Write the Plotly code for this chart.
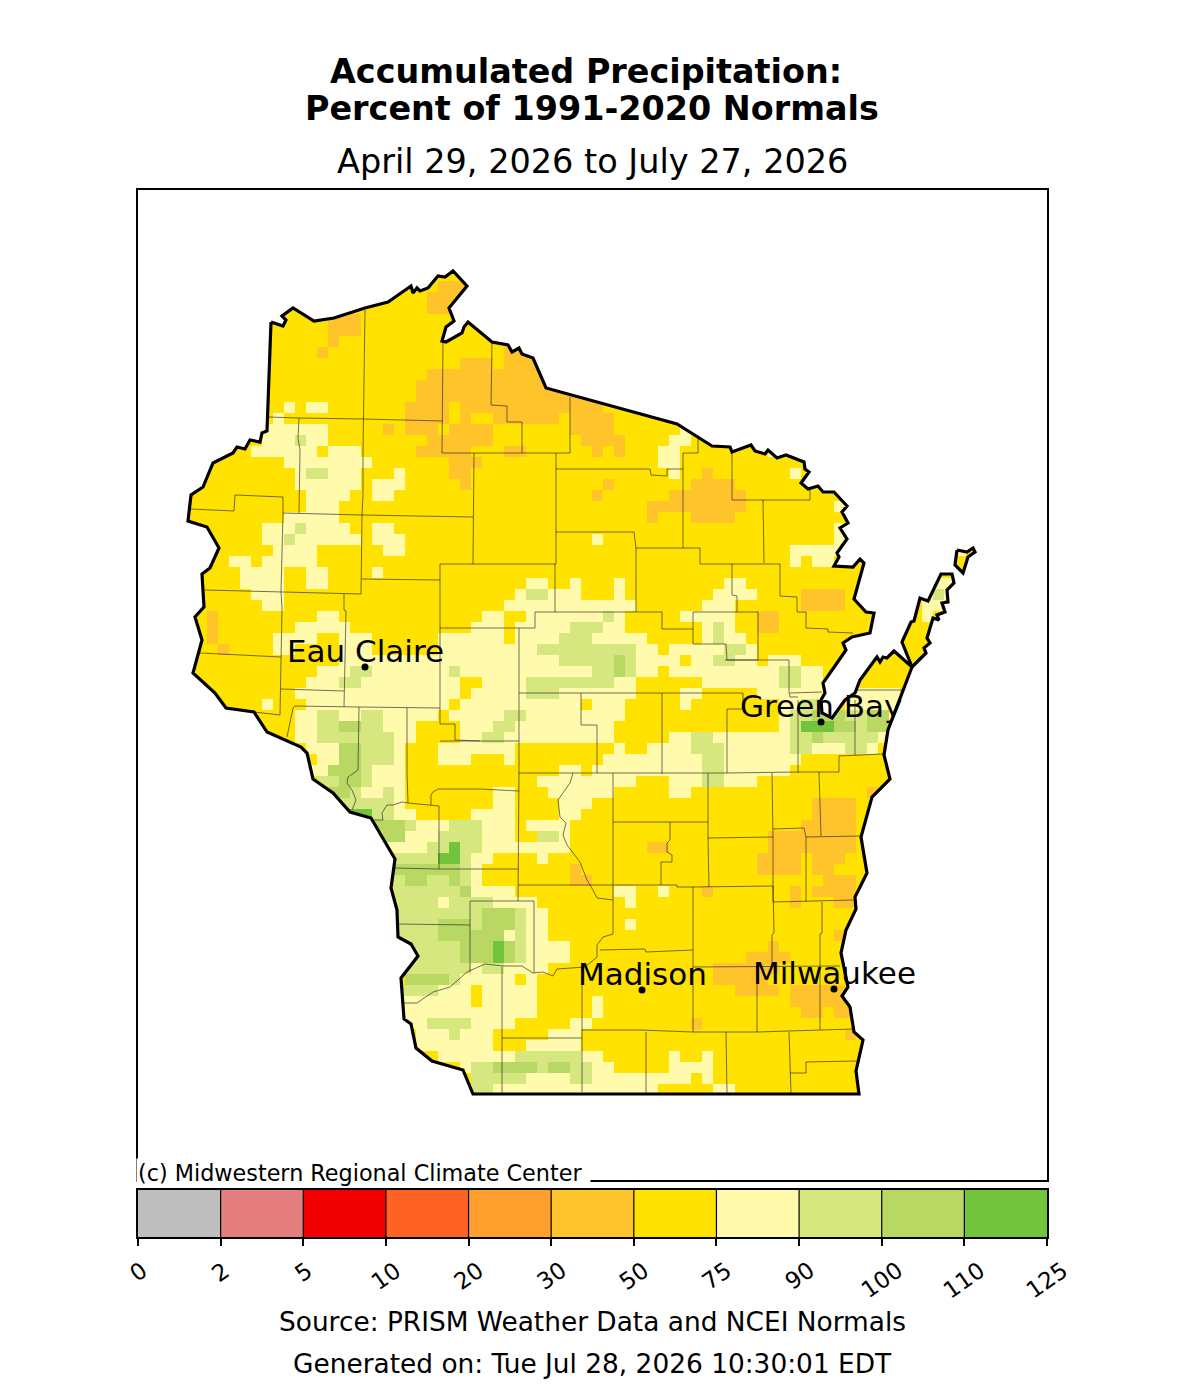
import re
import numpy as np
import plotly.graph_objects as go

# legend classes, percent of normal
tick_labels = ["0", "2", "5", "10", "20", "30", "50", "75", "90", "100", "110", "125"]
bin_colors = ["#BEBEBE", "#E57E7E", "#F00000", "#FF6324", "#FF9F2E", "#FFC42C",
              "#FFE200", "#FFFAAC", "#D7E780", "#B9D863", "#72C43C"]
bin_index = [0, 1, 2, 3, 4, 5, 6, 7, 8, 9, 10]

# gridded precipitation classes, one string per grid row from north to south.
# "13o 16." means class o from column 13, back to class . from column 16
class_codes = {"o": 5, ".": 6, "p": 7, "g": 8, "m": 9, "d": 10}
grid_rows = [
    "",
    "23o 26.",
    "22o 25.",
    "22o 24.",
    "13o 16.",
    "13o 16.",
    "13o 14.",
    "12o 13. 29o 32.",
    "25o 28. 29o 32.",
    "22o 33.",
    "21o 33.",
    "21o 38.",
    "9p 10. 11p 13. 20o 24. 25o 38.",
    "8p 9. 20o 24. 25o 26. 28o 34. 35o 39.",
    "7p 13. 18o 19. 20o 23. 24o 28. 35o 39. 45p 46.",
    "7p 10. 10g 11. 11p 13. 22o 28. 36o 40. 44p 46.",
    "6p 12. 13p 16. 21o 26. 29o 31. 37o 38. 39o 40. 43p 45. 53p 54.",
    "9p 17. 24o 27. 43p 45.",
    "10p 11. 11g 13. 13p 16. 19p 20. 24o 26. 44p 45. 47o 48. 55p 56.",
    "10p 16. 17p 20. 25o 26. 38o 39. 46o 50.",
    "11p 15. 17p 19. 37o 38. 44o 51.",
    "11p 14. 42o 51. 59p 60.",
    "9p 14. 42o 43. 46o 50.",
    "7p 10. 10g 11. 11p 15. 17p 19. 59p 60.",
    "7p 9. 9g 10. 10p 16. 17p 20. 37p 38. 59p 60.",
    "8p 12. 18p 20. 55p 60. 70p 71.",
    "4p 6. 7p 12. 55p 56. 57p 59.",
    "5p 9. 11p 13. 17p 18.",
    "5p 9. 11p 13. 31p 33. 35p 36. 39p 40. 49p 51. 68p 70.",
    "6p 9. 30p 31. 31g 33. 33p 36. 39p 40. 48p 52. 56o 60. 67p 68. 68g 69. 69p 70.",
    "7p 9. 29p 41. 47p 50. 56o 60. 67p 69.",
    "2o 3. 12p 14. 27p 29. 31p 38. 38g 39. 39p 40. 45p 50. 52o 54. 67p 68.",
    "2o 3. 10p 15. 26p 29. 30p 35. 35g 38. 38p 40. 47p 48. 48g 49. 49p 50. 52o 54.",
    "2o 3. 8p 12. 14p 17. 23p 29. 30p 34. 34g 37. 37p 42. 47p 48. 48g 49. 49p 51.",
    "3o 4. 8p 10. 14p 17. 23p 32. 32g 41. 41p 43. 44p 49. 49g 51. 51p 52.",
    "14p 34. 34g 39. 39m 40. 40g 41. 41p 45. 46p 48. 48g 50. 50p 52. 53p 56.",
    "12p 15. 15g 17. 17p 24. 24g 25. 25p 37. 37g 39. 39m 40. 40g 41. 41p 43. 44p 54. 54g 56. 56p 58.",
    "11p 14. 14g 16. 16p 25. 27p 31. 31g 39. 39p 41. 47p 54. 54g 56. 56p 58.",
    "10p 25. 26p 31. 31g 34. 34p 41. 45p 47. 52p 58. 60p 65.",
    "7p 8. 11p 24. 25p 36. 37p 40. 45p 46. 54p 56. 56g 58. 60p 65.",
    "10p 12. 12g 14. 14p 16. 16g 18. 18p 23. 24p 29. 29g 31. 31p 40. 54p 55. 55g 57. 57m 60. 60g 62. 62m 64. 64p 65.",
    "10p 12. 12g 14. 14m 16. 16g 18. 18p 21. 25p 28. 28g 30. 30p 39. 54p 55. 55g 56. 56d 59. 59m 61. 61g 62. 62m 64. 64p 65.",
    "10p 12. 12g 19. 19p 21. 25p 27. 27g 29. 29p 39. 44p 46. 46g 48. 48p 55. 55g 57. 57m 58. 58g 63. 63p 65.",
    "11p 14. 14m 16. 16g 19. 19p 20. 23p 30. 39p 40. 42p 46. 46g 49. 49p 55. 55g 57. 57p 60. 60g 62. 62p 63.",
    "12p 14. 14m 16. 16g 19. 19p 20. 23p 26. 29p 30. 38p 47. 47g 49. 49p 56.",
    "11p 13. 13m 16. 16g 17. 17p 20. 34p 36. 37p 47. 47g 49. 49p 55.",
    "12g 14. 14m 16. 16g 17. 17p 20. 32p 41. 44p 47. 47g 49. 49p 52.",
    "13m 15. 15g 16. 16p 18. 18g 19. 19p 20. 28p 30. 33p 39. 44p 46. 62o 63.",
    "14g 19. 19p 20. 28p 30. 34p 37. 57o 61.",
    "15d 17. 17g 19. 19p 21. 26p 30. 34p 36. 57o 61.",
    "17m 20. 20g 21. 21p 24. 24g 27. 27p 30. 31p 35. 56o 61.",
    "18m 20. 20p 23. 23g 27. 27p 30. 32g 34. 34p 35. 53o 61.",
    "18p 22. 22g 24. 24d 25. 25g 27. 27p 35. 42o 44. 53o 61.",
    "19g 23. 23d 25. 25g 26. 26p 28. 32p 33. 52o 56. 57o 60.",
    "19m 25. 25g 26. 26p 27. 35o 36. 52o 56. 57o 59.",
    "19g 20. 20m 22. 22g 24. 24m 25. 25g 26. 26p 27. 35o 37. 58o 61.",
    "19g 25. 25m 26. 26p 30. 39p 41. 43p 44. 47o 48. 55o 56. 57o 61.",
    "19g 23. 23p 24. 24g 28. 28p 32. 40p 41. 55o 56. 59o 61.",
    "19g 27. 27m 30. 30g 31. 31p 33.",
    "19g 23. 23m 26. 26g 27. 27m 30. 30g 31. 31p 33. 40p 41.",
    "19g 23. 23m 29. 29p 30. 30g 31. 31p 33. 59o 60.",
    "20g 25. 25m 28. 28d 29. 29m 30. 30g 31. 31p 35. 53o 54.",
    "21g 25. 25m 28. 28d 29. 29m 30. 30g 31. 31p 35. 51o 55.",
    "20g 26. 26p 27. 27g 29. 29p 33. 48o 54.",
    "20m 24. 24g 25. 25p 30. 31p 32. 48o 53.",
    "19g 23. 23p 26. 27p 32. 50o 54. 55o 60.",
    "19p 26. 27p 32. 37p 38. 55o 60.",
    "20p 32. 37p 38. 56o 58. 59o 61.",
    "20p 22. 22g 26. 26p 30. 35p 37. 46o 47.",
    "21p 24. 24g 25. 25p 28. 33p 36. 60o 61.",
    "21p 28. 31p 36.",
    "23p 30. 30g 36. 36p 38. 44p 45. 47p 48.",
    "25p 26. 26g 28. 28m 32. 32g 33. 33m 35. 35g 37. 37p 39. 44p 48.",
    "26g 31. 31p 35. 35g 37. 37p 46. 47p 48.",
    "26g 28. 28p 43. 48p 50.",
]

# outlines, in map units
state_main = [
    (271, 322), (283, 326), (286, 320), (282, 316), (293, 308), (314, 321), (334, 318), (365, 308),
    (388, 302), (411, 286), (413, 293), (417, 288), (420, 291), (428, 288), (438, 276), (445, 277),
    (453, 271), (467, 286), (449, 308), (454, 321), (446, 327), (442, 341), (446, 342), (462, 333),
    (464, 327), (468, 322), (492, 342), (508, 345), (512, 352), (519, 348), (522, 354), (533, 358),
    (546, 388), (677, 424), (712, 446), (730, 447), (732, 452), (751, 445), (755, 451), (765, 454),
    (768, 450), (777, 458), (786, 455), (804, 462), (805, 469), (809, 472), (801, 483), (808, 489),
    (818, 486), (823, 492), (834, 492), (847, 506), (842, 512), (848, 523), (840, 528), (847, 539),
    (837, 553), (839, 557), (834, 566), (853, 567), (860, 559), (864, 563), (854, 599), (866, 612),
    (874, 613), (870, 633), (852, 637), (843, 643), (846, 650), (823, 683), (825, 693), (821, 700),
    (822, 713), (832, 718), (845, 700), (855, 693), (860, 680), (877, 657), (880, 662), (883, 657),
    (887, 658), (894, 651), (912, 667), (897, 707), (888, 730), (884, 755), (890, 779), (872, 797),
    (861, 837), (867, 873), (855, 897), (856, 909), (846, 930), (841, 953), (848, 987), (842, 996),
    (850, 1007), (854, 1032), (863, 1040), (856, 1071), (859, 1094), (473, 1094), (463, 1070),
    (432, 1061), (416, 1048), (411, 1024), (404, 1019), (401, 978), (418, 956), (411, 944), (398, 937),
    (397, 910), (391, 888), (395, 859), (371, 818), (350, 812), (333, 793), (313, 779), (307, 753),
    (301, 747), (267, 732), (254, 712), (226, 708), (215, 693), (193, 673), (202, 640), (195, 617),
    (204, 607), (202, 574), (210, 568), (219, 548), (207, 527), (188, 521), (191, 495), (203, 487),
    (213, 463), (233, 453), (237, 447), (245, 449), (250, 440), (260, 442), (262, 433), (267, 431),
    (271, 322),
]
door_north = [
    (912, 667), (902, 642), (911, 622), (914, 621), (920, 598), (928, 601), (941, 574), (952, 574),
    (954, 583), (947, 590), (948, 602), (942, 603), (945, 612), (937, 615), (939, 620), (933, 618),
    (927, 638), (930, 643), (924, 648), (926, 653), (912, 667),
]
washington_island = [(957, 550), (967, 552), (973, 548), (975, 552), (968, 557), (963, 573), (955, 565), (957, 550)]

county_lines = [
    [(365, 310), (363, 419), (363, 452), (363, 495), (362, 515), (361, 594)],
    [(269, 417), (299, 418), (363, 419), (443, 421)],
    [(299, 418), (298, 438), (300, 450), (299, 495), (299, 513)],
    [(443, 342), (442, 453), (474, 453), (473, 517), (473, 564)],
    [(283, 513), (362, 515), (473, 517)],
    [(235, 495), (283, 497), (283, 513), (281, 592), (282, 608), (280, 715)],
    [(235, 495), (234, 511), (191, 509)],
    [(205, 590), (281, 592), (361, 594)],
    [(344, 594), (344, 610), (346, 611), (344, 707)],
    [(200, 653), (281, 657)],
    [(281, 689), (344, 691)],
    [(254, 712), (280, 715)],
    [(362, 579), (440, 580)],
    [(440, 564), (556, 564)],
    [(440, 564), (440, 708)],
    [(440, 628), (519, 628), (535, 628), (535, 612), (662, 612), (662, 629), (693, 629), (693, 612), (758, 612), (758, 660), (727, 660), (726, 644), (693, 644), (693, 629)],
    [(555, 564), (555, 612)],
    [(636, 548), (636, 612)],
    [(732, 564), (732, 595), (737, 596), (737, 612)],
    [(519, 628), (519, 693), (519, 773), (518, 901)],
    [(519, 693), (581, 693), (662, 693), (743, 693), (743, 709), (727, 709), (727, 773)],
    [(662, 693), (662, 774)],
    [(581, 693), (581, 725), (597, 725), (597, 773)],
    [(519, 773), (727, 773), (798, 772), (839, 772), (839, 756), (883, 754)],
    [(440, 741), (470, 741), (519, 741)],
    [(440, 708), (440, 724), (455, 724), (455, 740), (480, 741)],
    [(293, 708), (295, 706), (359, 707), (407, 708), (440, 708)],
    [(293, 708), (287, 737)],
    [(359, 707), (358, 770), (348, 777), (347, 783), (352, 790), (356, 800), (352, 810)],
    [(407, 708), (407, 772), (408, 803)],
    [(373, 820), (383, 820), (382, 813), (387, 805), (393, 805), (402, 802), (408, 803), (439, 806), (439, 869)],
    [(431, 805), (431, 795), (433, 792), (438, 789), (480, 789), (519, 791)],
    [(395, 868), (438, 869), (480, 869), (518, 869)],
    [(399, 924), (470, 925)],
    [(470, 901), (534, 901), (534, 973)],
    [(470, 901), (470, 972)],
    [(518, 885), (613, 885), (661, 885), (677, 885), (677, 887), (693, 887), (773, 886), (774, 933), (772, 935), (772, 967)],
    [(403, 1003), (417, 1003), (433, 992), (450, 987), (467, 972), (485, 964), (503, 966), (522, 966),
     (533, 973), (543, 972), (553, 976), (557, 969), (585, 967), (597, 957), (597, 945), (603, 937),
     (613, 934), (613, 900), (597, 898), (593, 890), (587, 880), (580, 862), (567, 845), (563, 835),
     (566, 823), (560, 817), (558, 800), (570, 783), (573, 773)],
    [(613, 773), (613, 900)],
    [(613, 822), (708, 822)],
    [(670, 822), (670, 840), (667, 843), (667, 852), (672, 855), (672, 862), (661, 862), (661, 885)],
    [(582, 967), (582, 1092)],
    [(582, 1030), (640, 1030), (693, 1032)],
    [(502, 1038), (582, 1038)],
    [(502, 967), (502, 1093)],
    [(600, 950), (645, 949), (646, 952), (693, 950)],
    [(693, 887), (693, 1032)],
    [(693, 967), (840, 966)],
    [(757, 967), (757, 1032)],
    [(822, 902), (822, 933), (820, 934), (820, 1030)],
    [(773, 902), (853, 900)],
    [(806, 837), (806, 902)],
    [(693, 1032), (757, 1032), (821, 1030), (853, 1029)],
    [(646, 1032), (646, 1093)],
    [(726, 1032), (727, 1093)],
    [(789, 1032), (791, 1093)],
    [(790, 1073), (806, 1073), (806, 1062), (857, 1061)],
    [(708, 773), (708, 838), (709, 887)],
    [(772, 773), (773, 837), (773, 902)],
    [(708, 838), (773, 837)],
    [(773, 829), (804, 828), (806, 837)],
    [(806, 837), (861, 836)],
    [(819, 772), (821, 836)],
    [(798, 700), (798, 773)],
    [(855, 700), (855, 755)],
    [(725, 660), (789, 660), (789, 692), (790, 697), (798, 697)],
    [(790, 693), (822, 692)],
    [(857, 690), (902, 690)],
    [(732, 447), (732, 500), (810, 500), (810, 489)],
    [(763, 500), (764, 563)],
    [(700, 564), (780, 564), (780, 596), (797, 597), (797, 612), (806, 612), (806, 628), (828, 629), (828, 632), (853, 633)],
    [(492, 342), (491, 405), (507, 406), (507, 422), (522, 422), (522, 453), (474, 453)],
    [(522, 453), (570, 453), (570, 397)],
    [(556, 453), (556, 564)],
    [(556, 469), (650, 469), (651, 475), (667, 476), (667, 469), (683, 469)],
    [(683, 548), (683, 453), (698, 453), (698, 438)],
    [(636, 548), (700, 548), (700, 564)],
    [(556, 532), (634, 532), (636, 548)],
]

city_names = ["Eau Claire", "Green Bay", "Madison", "Milwaukee"]
city_x = [365, 821, 642, 834]
city_y = [667, 722, 990, 989]

# page and map geometry
W, H = 1184, 1400
map_left, map_right, map_top, map_bottom = 138, 1047, 190, 1180
bar_top, bar_bottom = 1190, 1237
grid_x0, grid_y0, cell = 185, 270, 11
n_cols = 72


def paper_x(px):
    return px / W


def paper_y(py):
    return 1 - py / H


def expand_row(row):
    values = [class_codes["."]] * n_cols
    for start, code in re.findall(r"(\d+)([a-z.])", row):
        for i in range(int(start), n_cols):
            values[i] = class_codes[code]
    return values


def flatten(paths):
    xs, ys = [], []
    for path in paths:
        xs += [p[0] for p in path] + [None]
        ys += [p[1] for p in path] + [None]
    return xs, ys


z = np.array([expand_row(r) for r in grid_rows])
grid_x = grid_x0 + cell * (np.arange(z.shape[1]) + 0.5)
grid_y = grid_y0 + cell * (np.arange(z.shape[0]) + 0.5)

n_bins = len(bin_colors)
colorscale = []
for i, c in enumerate(bin_colors):
    colorscale += [[i / n_bins, c], [(i + 1) / n_bins, c]]

fig = go.Figure()

fig.add_trace(go.Heatmap(x=grid_x, y=grid_y, z=z, zmin=-0.5, zmax=n_bins - 0.5,
                         colorscale=colorscale, showscale=False, hoverinfo="skip"))

# county lines, cut to the state by the white mask added after them
cx, cy = flatten(county_lines)
fig.add_trace(go.Scatter(x=cx, y=cy, mode="lines", line=dict(color="rgba(40,40,40,0.65)", width=1),
                         hoverinfo="skip"))

# white mask: frame wound the other way round from the state, so the state is a hole
frame = [(map_left, map_top), (map_left, map_bottom), (map_right, map_bottom), (map_right, map_top), (map_left, map_top)]
mx, my = flatten([frame, state_main, door_north, washington_island])
fig.add_trace(go.Scatter(x=mx, y=my, mode="lines", fill="toself", fillcolor="white",
                         line=dict(width=0), hoverinfo="skip"))

sx, sy = flatten([state_main, door_north, washington_island])
fig.add_trace(go.Scatter(x=sx, y=sy, mode="lines", line=dict(color="black", width=3.2), hoverinfo="skip"))

fig.add_trace(go.Scatter(x=city_x, y=city_y, mode="markers", marker=dict(color="black", size=7),
                         hoverinfo="skip"))
for name, x, y in zip(city_names, city_x, city_y):
    fig.add_annotation(text=name, x=x, y=y, xref="x", yref="y", showarrow=False, yanchor="middle", yshift=16,
                       font=dict(size=31, color="black", family="DejaVu Sans"))

# colour bar on its own axes
fig.add_trace(go.Heatmap(x=np.array(bin_index) + 0.5, y=[0.5], z=[bin_index], zmin=-0.5, zmax=n_bins - 0.5,
                         colorscale=colorscale, showscale=False, hoverinfo="skip", xaxis="x2", yaxis="y2"))
div_x, div_y = [], []
for i in range(1, n_bins):
    div_x += [i, i, None]
    div_y += [0, 1, None]
fig.add_trace(go.Scatter(x=div_x, y=div_y, mode="lines", line=dict(color="black", width=1.2),
                         hoverinfo="skip", xaxis="x2", yaxis="y2"))

fig.update_layout(
    width=W, height=H, margin=dict(l=0, r=0, t=0, b=0), showlegend=False,
    paper_bgcolor="white", plot_bgcolor="white",
    font=dict(family="DejaVu Sans", color="black"),
    xaxis=dict(domain=[paper_x(map_left), paper_x(map_right)], range=[map_left, map_right],
               showgrid=False, zeroline=False, showticklabels=False, ticks="",
               showline=True, mirror=True, linecolor="black", linewidth=2),
    yaxis=dict(domain=[paper_y(map_bottom), paper_y(map_top)], range=[map_bottom, map_top],
               showgrid=False, zeroline=False, showticklabels=False, ticks="",
               showline=True, mirror=True, linecolor="black", linewidth=2),
    xaxis2=dict(domain=[paper_x(map_left), paper_x(map_right)], range=[0, n_bins], anchor="y2",
                tickvals=list(range(n_bins + 1)), ticktext=[""] * (n_bins + 1), ticks="outside",
                ticklen=7, tickwidth=2, tickcolor="black", showgrid=False, zeroline=False,
                showline=True, mirror=True, linecolor="black", linewidth=2),
    yaxis2=dict(domain=[paper_y(bar_bottom), paper_y(bar_top)], range=[0, 1], anchor="x2",
                showgrid=False, zeroline=False, showticklabels=False, ticks="",
                showline=True, mirror=True, linecolor="black", linewidth=2),
)


def label(text, x, y, size, xanchor="center", **kw):
    fig.add_annotation(text=text, x=paper_x(x), y=paper_y(y), xref="paper", yref="paper", showarrow=False,
                       xanchor=xanchor, yanchor="middle",
                       font=dict(size=size, color="black", family="DejaVu Sans"), **kw)


label("<b>Accumulated Precipitation:</b>", 586, 71, 33.4)
label("<b>Percent of 1991-2020 Normals</b>", 592, 109, 33.4)
label("April 29, 2026 to July 27, 2026", 592, 161, 33.5)
label("Source: PRISM Weather Data and NCEI Normals", 592, 1321, 26.4)
label("Generated on: Tue Jul 28, 2026 10:30:01 EDT", 592, 1363, 26.4)
# white box breaks the frame corner behind the credit line
label("(c) Midwestern Regional Climate Center\u00a0", 135.5, 1172.5, 22.3, xanchor="left", bgcolor="white", borderpad=1)

for i, t in enumerate(tick_labels):
    fig.add_annotation(text=t, x=i, y=paper_y(1254), xref="x2", yref="paper", showarrow=False, textangle=-35,
                       yanchor="top", font=dict(size=23, color="black", family="DejaVu Sans"))

# the page body's default margin would shift the whole figure
fig.write_html("out.html", post_script="document.body.style.margin='0';", config={"displayModeBar": False})
